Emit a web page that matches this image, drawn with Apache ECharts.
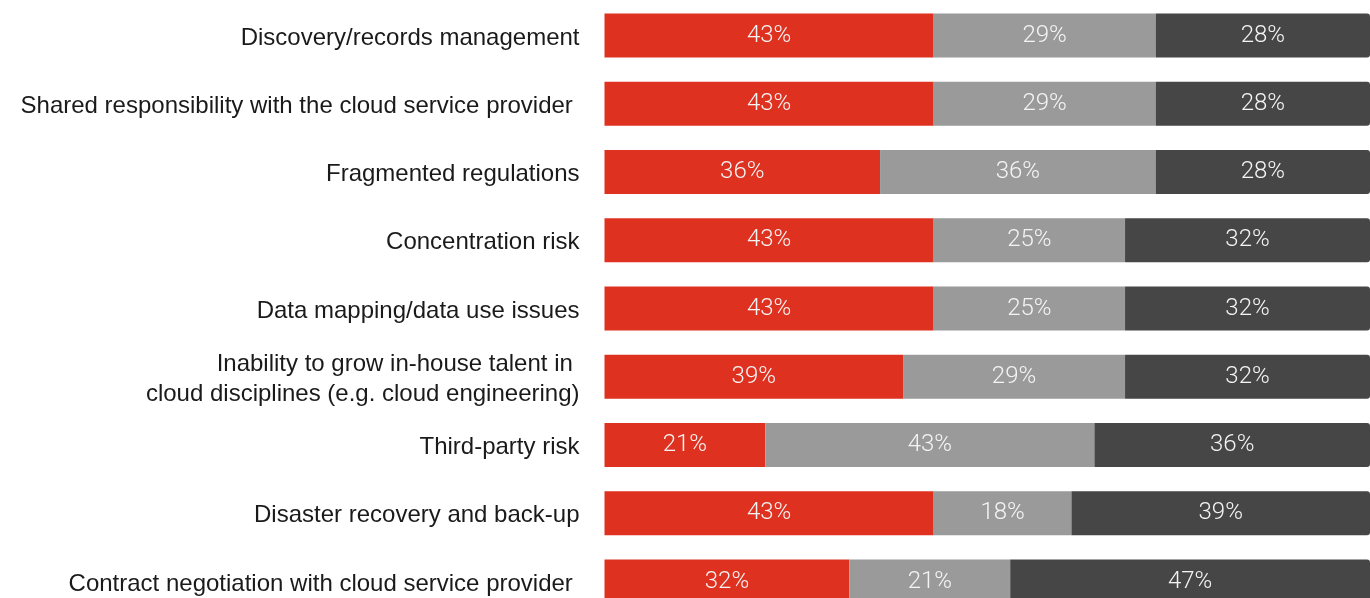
<!DOCTYPE html>
<html>
<head>
<meta charset="utf-8">
<script src="https://cdn.jsdelivr.net/npm/echarts@6/dist/echarts.min.js"></script>
<style>
  html, body { margin: 0; padding: 0; background: #ffffff; overflow: hidden; }
  #chart { width: 1370px; height: 616px; }
</style>
</head>
<body>
<div id="chart"></div>
<script>
// Survey categories (top to bottom)
const categories = [
  'Discovery/records management',
  'Shared responsibility with the cloud service provider ',
  'Fragmented regulations',
  'Concentration risk',
  'Data mapping/data use issues',
  'Inability to grow in-house talent in \ncloud disciplines (e.g. cloud engineering)',
  'Third-party risk',
  'Disaster recovery and back-up',
  'Contract negotiation with cloud service provider '
];

// Share of responses per category (%)
const redShare  = [43, 43, 36, 43, 43, 39, 21, 43, 32];
const greyShare = [29, 29, 36, 25, 25, 29, 43, 18, 21];
const darkShare = [28, 28, 28, 32, 32, 32, 36, 39, 47];

const valueLabel = {
  show: true,
  position: 'inside',
  formatter: p => p.value + '%',
  color: '#f4f4f4',
  fontFamily: 'Roboto',
  fontWeight: 300,
  fontSize: 24
};

function barSeries(name, data, color, radius) {
  return {
    name: name,
    type: 'bar',
    stack: 'total',
    barWidth: 44,
    data: data,
    itemStyle: { color: color, borderRadius: radius },
    label: valueLabel,
    emphasis: { disabled: true }
  };
}

const chart = echarts.init(document.getElementById('chart'), null, { renderer: 'canvas' });
chart.setOption({
  animation: false,
  grid: { left: 604.5, right: 0, top: 1.4, height: 614.3, containLabel: false },
  xAxis: {
    type: 'value',
    min: 0,
    max: 100,
    show: false
  },
  yAxis: {
    type: 'category',
    data: categories,
    inverse: true,
    axisLine: { show: false },
    axisTick: { show: false },
    splitLine: { show: false },
    axisLabel: {
      margin: 25,
      align: 'right',
      // category text sits slightly below the bar centre line
      formatter: v => v.split('\n').map(line => '{t|' + line + '}').join('\n'),
      rich: {
        t: {
          color: '#1a1a1a',
          fontFamily: 'Liberation Sans, Arial, sans-serif',
          fontSize: 24,
          lineHeight: 30,
          padding: [5, 0, 0, 0]
        }
      }
    }
  },
  series: [
    barSeries('red', redShare, '#de3120', 0),
    barSeries('grey', greyShare, '#9a9a9a', 0),
    barSeries('dark', darkShare, '#464646', [0, 3, 3, 0])
  ]
});
</script>
</body>
</html>
